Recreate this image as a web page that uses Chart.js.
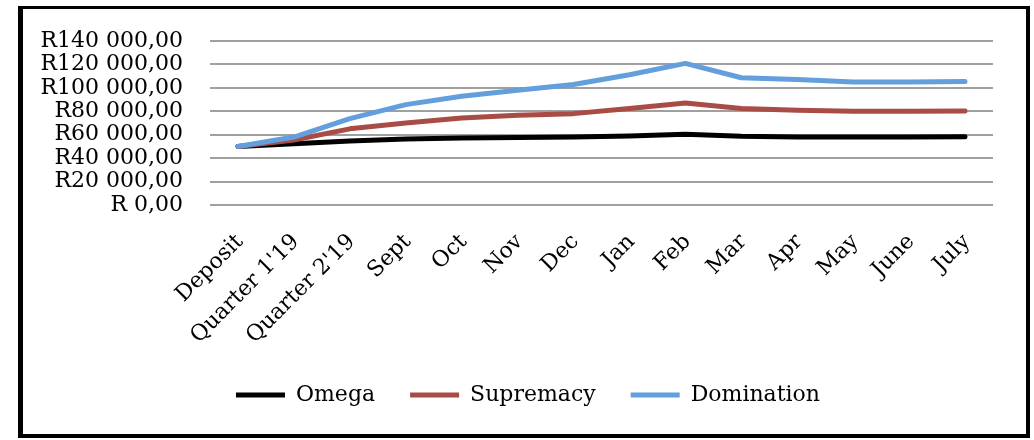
<!DOCTYPE html>
<html>
<head>
<meta charset="utf-8">
<script src="https://cdn.jsdelivr.net/npm/chart.js@4/dist/chart.umd.min.js"></script>
<style>
  html, body { margin: 0; padding: 0; background: #fff; }
  body { width: 1034px; height: 440px; position: relative; overflow: hidden; }
  #frame {
    position: absolute; left: 18px; top: 6px; width: 1012px; height: 432px;
    box-sizing: border-box; border: 4px solid #000; border-left-width: 5px; border-top-width: 3px;
  }
  #wrap { position: absolute; left: 23px; top: 10px; width: 1002px; height: 423px; }
</style>
</head>
<body>
<div id="frame"></div>
<div id="wrap"><canvas id="myChart"></canvas></div>
<script>
var categories = ['Deposit', "Quarter 1'19", "Quarter 2'19", 'Sept', 'Oct', 'Nov', 'Dec', 'Jan', 'Feb', 'Mar', 'Apr', 'May', 'June', 'July'];
var omega      = [50000, 52300, 54600, 56300, 57100, 57700, 58000, 58900, 60300, 58600, 58000, 58000, 58000, 58200];
var supremacy  = [50000, 55500, 65000, 70000, 74300, 76600, 78000, 82300, 87100, 82300, 80900, 80000, 80000, 80300];
var domination = [50000, 58000, 73700, 85700, 92900, 98000, 102900, 111200, 120900, 108600, 107100, 105100, 105100, 105400];
var yTickLabels = ['R 0,00', 'R20 000,00', 'R40 000,00', 'R60 000,00', 'R80 000,00', 'R100 000,00', 'R120 000,00', 'R140 000,00'];

(function() {
  Chart.defaults.font.family = "'DejaVu Serif', serif";
  Chart.defaults.color = '#000';

  function line(label, data, color, order) {
    return {
      label: label,
      data: data,
      borderColor: color,
      backgroundColor: color,
      borderWidth: 5,
      borderCapStyle: 'round',
      borderJoinStyle: 'round',
      pointRadius: 0,
      tension: 0,
      order: order
    };
  }

  // legend sits a bit right of the canvas centre in the original
  var shiftLegend = {
    id: 'shiftLegend',
    afterLayout: function(chart) {
      chart.legend.left += 20;
      chart.legend.right += 20;
    }
  };

  new Chart(document.getElementById('myChart').getContext('2d'), {
    type: 'line',
    data: {
      labels: categories,
      datasets: [
        line('Omega', omega, '#000000', 3),
        line('Supremacy', supremacy, '#a94c46', 2),
        line('Domination', domination, '#629fdc', 1)
      ]
    },
    plugins: [shiftLegend],
    options: {
      responsive: true,
      maintainAspectRatio: false,
      animation: false,
      layout: { padding: { left: 0, right: 32, top: 31, bottom: 17 } },
      plugins: {
        tooltip: { enabled: false },
        legend: {
          position: 'bottom',
          labels: {
            font: { size: 22 },
            usePointStyle: true,
            pointStyle: 'line',
            pointStyleWidth: 49,
            padding: 35,
            sort: function(a, b) { return a.datasetIndex - b.datasetIndex; }
          }
        }
      },
      scales: {
        x: {
          offset: true,
          grid: { display: false, drawTicks: false },
          border: { display: false },
          afterFit: function(scale) { scale.height = 144; },
          ticks: {
            font: { size: 22 },
            minRotation: 45,
            maxRotation: 45,
            autoSkip: false,
            padding: 24,
            labelOffset: 2
          }
        },
        y: {
          min: 0,
          max: 140000,
          afterFit: function(scale) { scale.width = 187; },
          // invisible tick marks give the gap between labels and gridlines
          grid: { color: '#a0a0a0', lineWidth: 2, drawTicks: true, tickLength: 24, tickColor: 'rgba(0,0,0,0)' },
          border: { display: false },
          ticks: {
            stepSize: 20000,
            autoSkip: false,
            padding: 3,
            font: { size: 22 },
            callback: function(value, index) { return yTickLabels[index]; }
          }
        }
      }
    }
  });
})();
</script>
</body>
</html>
